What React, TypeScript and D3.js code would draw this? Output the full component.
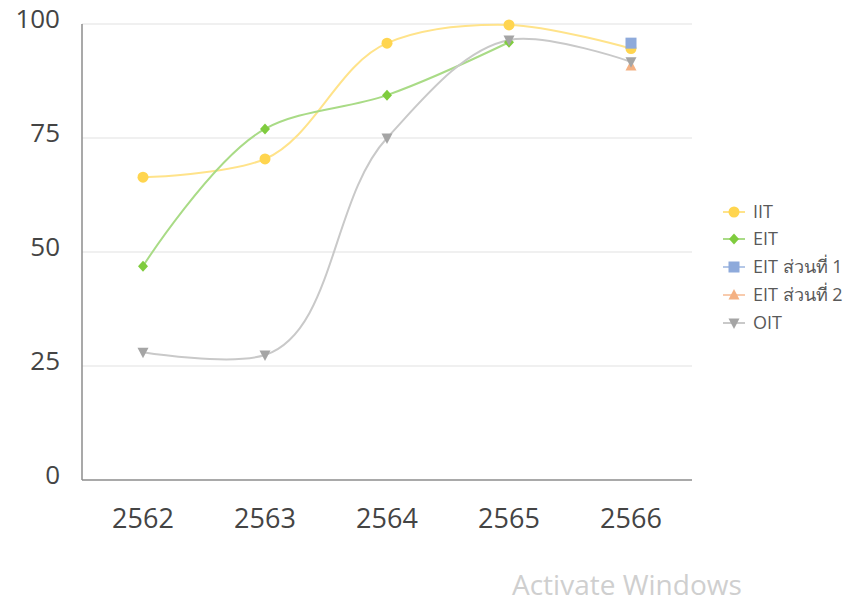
import React from "react";
import * as d3 from "d3";

const years = ["2562", "2563", "2564", "2565", "2566"];
const yTicks = [0, 25, 50, 75, 100];
const iit = [66.4, 70.4, 95.8, 99.8, 94.6];
const eit = [46.9, 77.0, 84.4, 96.0, null];
const eitPart1 = [null, null, null, null, 95.8];
const eitPart2 = [null, null, null, null, 90.8];
const oit = [28.0, 27.4, 75.0, 96.5, 91.7];

const seriesList = [
  { name: "IIT", values: iit, marker: "circle", fill: "#ffd54f", line: "#ffe38a" },
  { name: "EIT", values: eit, marker: "diamond", fill: "#7fcc3e", line: "#a9db86" },
  { name: "EIT ส่วนที่ 1", values: eitPart1, marker: "square", fill: "#8eaadb", line: "#b4c7e7" },
  { name: "EIT ส่วนที่ 2", values: eitPart2, marker: "triangle", fill: "#f4b183", line: "#f8cbad" },
  { name: "OIT", values: oit, marker: "triangleDown", fill: "#a5a5a5", line: "#c9c9c9" },
];

function Marker({ type, x, y, fill }: { type: string; x: number; y: number; fill: string }) {
  if (type === "circle") return <circle cx={x} cy={y} r={5.5} fill={fill} />;
  if (type === "diamond")
    return <path d={`M${x},${y - 5.5}L${x + 5},${y}L${x},${y + 5.5}L${x - 5},${y}Z`} fill={fill} />;
  if (type === "square") return <rect x={x - 5.5} y={y - 5.5} width={11} height={11} fill={fill} />;
  if (type === "triangle")
    return <path d={`M${x},${y - 6}L${x + 5.5},${y + 4.5}L${x - 5.5},${y + 4.5}Z`} fill={fill} />;
  return <path d={`M${x},${y + 6}L${x + 5.5},${y - 4.5}L${x - 5.5},${y - 4.5}Z`} fill={fill} />;
}

export default function App() {
  const left = 82, right = 692, top = 24, bottom = 480;
  const x = d3.scaleBand().domain(years).range([left, right]);
  const y = d3.scaleLinear().domain([0, 100]).range([bottom, top]);
  const cx = (yr: string) => (x(yr) as number) + x.bandwidth() / 2;
  const line = d3
    .line<[string, number | null]>()
    .defined((d) => d[1] != null)
    .x((d) => cx(d[0]))
    .y((d) => y(d[1] as number))
    .curve(d3.curveCatmullRom.alpha(1));
  const font = "'Open Sans', 'Noto Sans', sans-serif";
  const legendY = [212, 239, 267, 295, 323];

  return (
    <svg width={853} height={604} style={{ position: "absolute", left: 0, top: 0, background: "#fff" }}>
      {yTicks.map((t) => (
        <g key={t}>
          {t > 0 && <line x1={left} x2={right} y1={y(t)} y2={y(t)} stroke="#ebebeb" strokeWidth={1.5} />}
          <text x={60} y={y(t) + 4} textAnchor="end" fontFamily={font} fontSize={26} fill="#444">
            {t}
          </text>
        </g>
      ))}
      <line x1={left} x2={left} y1={top} y2={bottom} stroke="#8c8c8c" strokeWidth={1.5} />
      <line x1={left} x2={right} y1={bottom} y2={bottom} stroke="#8c8c8c" strokeWidth={1.5} />
      {years.map((yr) => (
        <text key={yr} x={cx(yr)} y={528} textAnchor="middle" fontFamily={font} fontSize={27} fill="#444">
          {yr}
        </text>
      ))}
      {seriesList.map((s) => (
        <path
          key={s.name}
          d={line(years.map((yr, i) => [yr, s.values[i]] as [string, number | null])) || ""}
          fill="none"
          stroke={s.line}
          strokeWidth={2}
        />
      ))}
      {seriesList.map((s) => (
        <g key={s.name + "m"}>
          {s.values.map((v, i) =>
            v == null ? null : <Marker key={i} type={s.marker} x={cx(years[i])} y={y(v)} fill={s.fill} />
          )}
        </g>
      ))}
      {seriesList.map((s, i) => (
        <g key={s.name + "l"}>
          <line x1={723} x2={745} y1={legendY[i]} y2={legendY[i]} stroke={s.line} strokeWidth={2} />
          <Marker type={s.marker} x={734} y={legendY[i]} fill={s.fill} />
          <text x={753} y={legendY[i]} dy="0.35em" fontFamily={font} fontSize={18} fill="#595959">
            {s.name}
          </text>
        </g>
      ))}
      <text x={512} y={595} fontFamily={font} fontSize={28} fill="#cfcfcf">
        Activate Windows
      </text>
    </svg>
  );
}
